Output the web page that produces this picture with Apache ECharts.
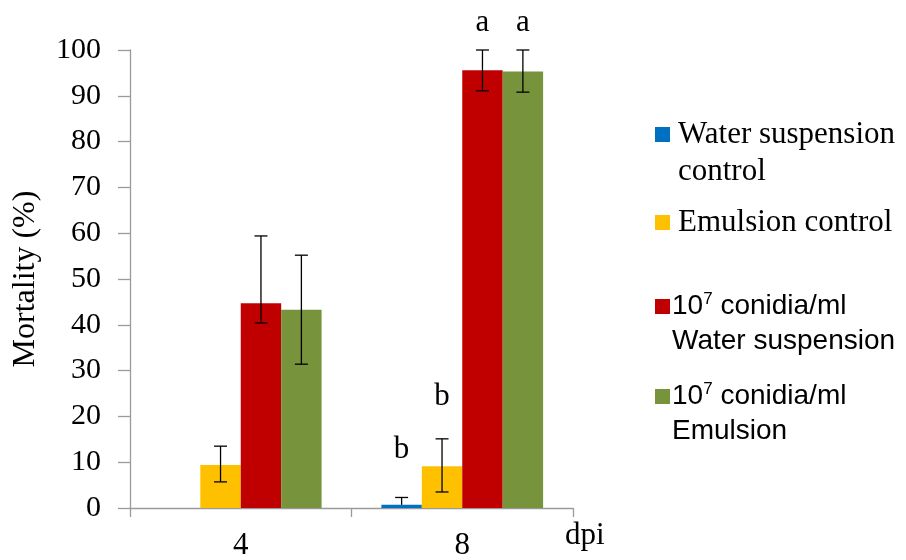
<!DOCTYPE html>
<html>
<head>
<meta charset="utf-8">
<script src="https://cdn.jsdelivr.net/npm/echarts@6/dist/echarts.min.js"></script>
<style>
  html, body { margin: 0; padding: 0; background: #fff; }
  #main { width: 906px; height: 560px; }
</style>
</head>
<body>
<div id="main"></div>
<script>
// days post inoculation
var categories = ['4', '8'];
var seriesNames = ['Water suspension control', 'Emulsion control',
                   '10^7 conidia/ml Water suspension', '10^7 conidia/ml Emulsion'];
var colors = ['#0070C0', '#FFC000', '#C00000', '#77933C'];

// mortality (%)
var waterCtrl = [0, 0.7];
var emulsionCtrl = [9.4, 9.1];
var waterConidia = [44.7, 95.6];
var emulsionConidia = [43.3, 95.3];

// error bars (low / high ends)
var waterCtrlLow = [null, null];
var waterCtrlHigh = [null, 2.3];
var emulsionCtrlLow = [5.7, 3.5];
var emulsionCtrlHigh = [13.5, 15.1];
var waterConidiaLow = [40.4, 91.1];
var waterConidiaHigh = [59.4, 100];
var emulsionConidiaLow = [31.4, 90.8];
var emulsionConidiaHigh = [55.2, 100];

// significance letters: [category, height, series]
var letters = ['b', 'b', 'a', 'a'];
var letterAt = [[1, 12.7, 0], [1, 24.2, 1], [1, 105.9, 2], [1, 105.9, 3]];

var values = [waterCtrl, emulsionCtrl, waterConidia, emulsionConidia];
var lows = [waterCtrlLow, emulsionCtrlLow, waterConidiaLow, emulsionConidiaLow];
var highs = [waterCtrlHigh, emulsionCtrlHigh, waterConidiaHigh, emulsionConidiaHigh];

var SERIF = "'Liberation Serif', 'Times New Roman', serif";
var SANS = "'Liberation Sans', Arial, sans-serif";
var GAP = 0.27;

var errData = [];
for (var s = 0; s < 4; s++) {
  for (var c = 0; c < categories.length; c++) {
    if (highs[s][c] == null) continue;
    errData.push([c, values[s][c], lows[s][c] == null ? '-' : lows[s][c], highs[s][c], s]);
  }
}

function slotX(api, cat, slot) {
  var band = api.size([1, 0])[0];
  var groupW = band * (1 - GAP);
  var bw = groupW / 4;
  return api.coord([cat, 0])[0] - groupW / 2 + bw * (slot + 0.5);
}

var myChart = echarts.init(document.getElementById('main'));

var series = values.map(function (v, i) {
  return {
    name: seriesNames[i],
    type: 'bar',
    data: v,
    barGap: 0,
    barCategoryGap: (GAP * 100) + '%',
    itemStyle: { color: colors[i] }
  };
});

series.push({
  type: 'custom',
  data: errData,
  encode: { x: 0, y: [1, 2, 3] },
  clip: false,
  z: 5,
  renderItem: function (params, api) {
    var cat = api.value(0);
    var x = slotX(api, cat, api.value(4));
    var lo = api.value(2);
    if (isNaN(lo)) lo = api.value(1);
    var yHi = api.coord([cat, api.value(3)])[1];
    var yLo = api.coord([cat, lo])[1];
    var hw = 6.5;
    var st = { stroke: '#000', lineWidth: 1.3 };
    var kids = [
      { type: 'line', shape: { x1: x, y1: yLo, x2: x, y2: yHi }, style: st },
      { type: 'line', shape: { x1: x - hw, y1: yHi, x2: x + hw, y2: yHi }, style: st }
    ];
    if (!isNaN(api.value(2))) {
      kids.push({ type: 'line', shape: { x1: x - hw, y1: yLo, x2: x + hw, y2: yLo }, style: st });
    }
    return { type: 'group', children: kids };
  }
});

series.push({
  type: 'custom',
  data: letterAt,
  encode: { x: 0, y: 1 },
  clip: false,
  z: 6,
  renderItem: function (params, api) {
    var cat = api.value(0);
    var x = slotX(api, cat, api.value(2));
    var y = api.coord([cat, api.value(1)])[1];
    return {
      type: 'text',
      x: x, y: y,
      style: {
        text: letters[params.dataIndex],
        font: '31px ' + SERIF,
        fill: '#000',
        align: 'center',
        verticalAlign: 'middle'
      }
    };
  }
});

var rich = {
  s: { fontFamily: SERIF, fontSize: 31, color: '#000', lineHeight: 37 },
  n: { fontFamily: SANS, fontSize: 28, color: '#000', lineHeight: 35 },
  sup: { fontFamily: SANS, fontSize: 17, color: '#000', lineHeight: 35, verticalAlign: 'top', padding: [2, 0, 0, 0] }
};

var legendText = [
  '\n{s|Water suspension}\n{s|control}',
  '{s|Emulsion control}',
  '\n{n|10}{sup|7}{n| conidia/ml}\n{n|Water suspension}',
  '\n{n|10}{sup|7}{n| conidia/ml}\n{n|Emulsion}'
];
var legendTop = [74, 199, 249, 339];

var legends = seriesNames.map(function (name, i) {
  return {
    data: [name],
    left: 650,
    top: legendTop[i],
    orient: 'vertical',
    icon: 'rect',
    itemWidth: 15,
    itemHeight: 15,
    selectedMode: false,
    formatter: function () { return legendText[i]; },
    textStyle: { rich: rich, lineHeight: i < 2 ? 37 : 35, padding: [0, 0, 0, i < 2 ? 3 : -3] }
  };
});

var option = {
  animation: false,
  backgroundColor: '#fff',
  grid: { left: 130, right: 333, top: 50, bottom: 52, outerBoundsMode: 'none', containLabel: false },
  legend: legends,
  xAxis: {
    type: 'category',
    data: categories,
    name: 'dpi',
    nameLocation: 'end',
    nameGap: -8,
    nameTextStyle: { fontFamily: SERIF, fontSize: 31, color: '#000', verticalAlign: 'top', padding: [12, 0, 0, 0] },
    axisLine: { lineStyle: { color: '#9a9a9a', width: 1.3 } },
    axisTick: { show: true, alignWithLabel: false, length: 9, lineStyle: { color: '#9a9a9a', width: 1.3 } },
    axisLabel: { fontFamily: SERIF, fontSize: 31, color: '#000', margin: 22 }
  },
  yAxis: {
    type: 'value',
    min: 0,
    max: 100,
    interval: 10,
    name: 'Mortality (%)',
    nameLocation: 'middle',
    nameRotate: 90,
    nameGap: 88,
    nameTextStyle: { fontFamily: SERIF, fontSize: 32, color: '#000' },
    axisLine: { show: true, lineStyle: { color: '#9a9a9a', width: 1.3 } },
    axisTick: { show: true, length: 12, lineStyle: { color: '#9a9a9a', width: 1.3 } },
    axisLabel: { fontFamily: SERIF, fontSize: 30, color: '#000', margin: 29 },
    splitLine: { show: false }
  },
  series: series
};

myChart.setOption(option);
</script>
</body>
</html>
